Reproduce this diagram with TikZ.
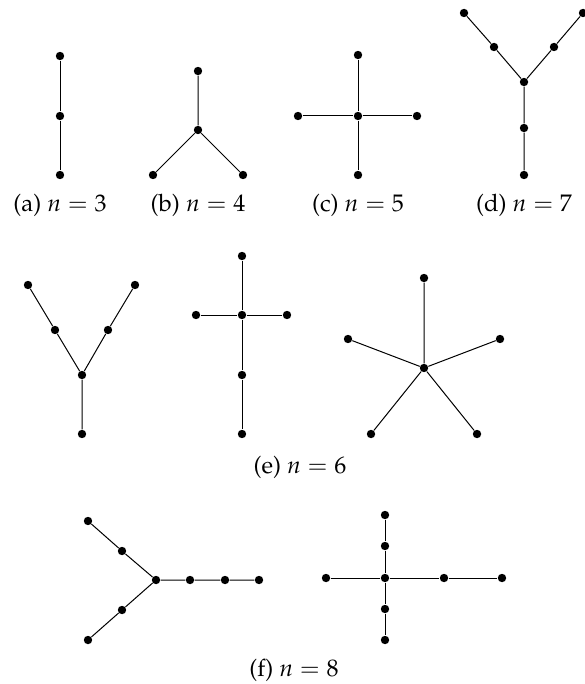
\documentclass[tikz,border=0pt]{standalone}
\usepackage[T1]{fontenc}
\usepackage{mathpazo}
\tikzset{
  dot/.style={circle,fill=black,inner sep=0pt,minimum size=4.2pt},
  edge/.style={line width=0.5pt},
  sublabel/.style={inner sep=0pt,font=\fontsize{12}{14}\selectfont}
}
\begin{document}
\begin{tikzpicture}[x=0.5pt,y=-0.5pt]
\useasboundingbox (0,0) rectangle (584,684);
% (a)
\node[dot] (a1) at (60,56) {};
\node[dot] (a2) at (60,116) {};
\node[dot] (a3) at (60,175) {};
\draw[edge] (a1)--(a2)--(a3);
\node[sublabel] (la) at (60,205) {(a) $n=3$};
% (b)
\node[dot] (b1) at (198,71) {};
\node[dot] (b0) at (198,130) {};
\node[dot] (b2) at (153,175) {};
\node[dot] (b3) at (243,175) {};
\draw[edge] (b1)--(b0) (b0)--(b2) (b0)--(b3);
\node[sublabel] (lb) at (198,205) {(b) $n=4$};
% (c)
\node[dot] (c0) at (358,116) {};
\node[dot] (c1) at (358,55) {};
\node[dot] (c2) at (358,175) {};
\node[dot] (c3) at (298,116) {};
\node[dot] (c4) at (417,116) {};
\draw[edge] (c1)--(c0)--(c2) (c3)--(c0)--(c4);
\node[sublabel] (lc) at (358,205) {(c) $n=5$};
% (d)
\node[dot] (d0) at (524,82) {};
\node[dot] (d1) at (494,47) {};
\node[dot] (d2) at (464,13) {};
\node[dot] (d3) at (554,47) {};
\node[dot] (d4) at (583,13) {};
\node[dot] (d5) at (524,128) {};
\node[dot] (d6) at (524,175) {};
\draw[edge] (d2)--(d1)--(d0)--(d3)--(d4) (d0)--(d5)--(d6);
\node[sublabel] (ld) at (524,205) {(d) $n=7$};
% (e) first
\node[dot] (e0) at (82,375) {};
\node[dot] (e1) at (55,330) {};
\node[dot] (e2) at (28,285) {};
\node[dot] (e3) at (108,330) {};
\node[dot] (e4) at (135,285) {};
\node[dot] (e5) at (82,434) {};
\draw[edge] (e2)--(e1)--(e0)--(e3)--(e4) (e0)--(e5);
% (e) second
\node[dot] (f0) at (242,315) {};
\node[dot] (f1) at (242,256) {};
\node[dot] (f2) at (196,315) {};
\node[dot] (f3) at (287,315) {};
\node[dot] (f4) at (242,375) {};
\node[dot] (f5) at (242,434) {};
\draw[edge] (f1)--(f0)--(f4)--(f5) (f2)--(f0)--(f3);
% (e) third
\node[dot] (g0) at (424,368) {};
\node[dot] (g1) at (424,278) {};
\node[dot] (g2) at (348,339) {};
\node[dot] (g3) at (500,339) {};
\node[dot] (g4) at (371,434) {};
\node[dot] (g5) at (477,434) {};
\draw[edge] (g0)--(g1) (g0)--(g2) (g0)--(g3) (g0)--(g4) (g0)--(g5);
\node[sublabel] (le) at (300,467) {(e) $n=6$};
% (f) first
\node[dot] (h0) at (156,580) {};
\node[dot] (h1) at (122,551) {};
\node[dot] (h2) at (88,521) {};
\node[dot] (h3) at (122,610) {};
\node[dot] (h4) at (88,640) {};
\node[dot] (h5) at (190,580) {};
\node[dot] (h6) at (225,580) {};
\node[dot] (h7) at (259,580) {};
\draw[edge] (h2)--(h1)--(h0)--(h3)--(h4) (h0)--(h5)--(h6)--(h7);
% (f) second
\node[dot] (k0) at (385,578) {};
\node[dot] (k1) at (385,515) {};
\node[dot] (k2) at (385,546) {};
\node[dot] (k3) at (385,609) {};
\node[dot] (k4) at (385,640) {};
\node[dot] (k5) at (326,578) {};
\node[dot] (k6) at (444,578) {};
\node[dot] (k7) at (502,578) {};
\draw[edge] (k1)--(k2)--(k0)--(k3)--(k4) (k5)--(k0)--(k6)--(k7);
\node[sublabel] (lf) at (294,670) {(f) $n=8$};
\end{tikzpicture}
\end{document}
